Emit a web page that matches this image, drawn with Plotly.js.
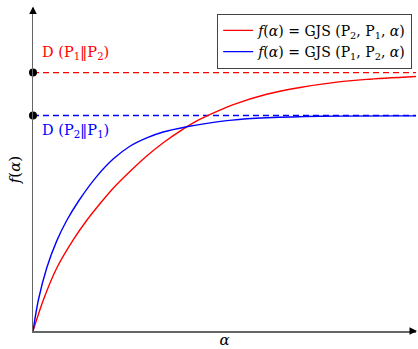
<!DOCTYPE html>
<html><head><meta charset="utf-8">
<script src="https://cdn.plot.ly/plotly-3.0.1.min.js"></script>
<style>html,body{margin:0;padding:0;background:#fff}#chart{width:418px;height:349px}</style>
</head><body><div id="chart"></div>
<script>
// alpha values and curve values
const blueX = [0, 0.014, 0.036, 0.062, 0.088, 0.12, 0.166, 0.21, 0.253, 0.297, 0.34, 0.405, 0.45, 0.52, 0.61, 0.75, 1.0];
const blueY = [0, 0.096, 0.196, 0.279, 0.342, 0.404, 0.478, 0.533, 0.572, 0.598, 0.616, 0.633, 0.642, 0.653, 0.660, 0.665, 0.666];
const redX = [0, 0.027, 0.062, 0.105, 0.14, 0.179, 0.21, 0.253, 0.297, 0.34, 0.384, 0.43, 0.488, 0.523, 0.61, 0.697, 0.784, 0.871, 1.0];
const redY = [0, 0.096, 0.195, 0.282, 0.342, 0.400, 0.443, 0.494, 0.542, 0.583, 0.619, 0.652, 0.684, 0.701, 0.733, 0.754, 0.769, 0.779, 0.788];
const dRed = 0.8;    // D(P1||P2)
const dBlue = 0.667; // D(P2||P1)
const xSpan = [0, 1];
const redName = "<i>f</i>(<i>α</i>) = GJS (P<sub>2</sub>, P<sub>1</sub>, <i>α</i>)";
const blueName = "<i>f</i>(<i>α</i>) = GJS (P<sub>1</sub>, P<sub>2</sub>, <i>α</i>)";
const redLabel = "D (P<sub>1</sub>‖P<sub>2</sub>)";
const blueLabel = "D (P<sub>2</sub>‖P<sub>1</sub>)";

const RED = "#ff0000", BLUE = "#0000ff";
const FONT = "DejaVu Serif, serif";

const traces = [
  {x: xSpan, y: [dRed, dRed], mode: "lines", line: {color: RED, width: 1.3, dash: "6px,4px"}, showlegend: false, hoverinfo: "skip"},
  {x: xSpan, y: [dBlue, dBlue], mode: "lines", line: {color: BLUE, width: 1.4, dash: "6px,4px"}, showlegend: false, hoverinfo: "skip"},
  {x: redX, y: redY, mode: "lines", line: {color: RED, width: 1.4, shape: "spline", smoothing: 0.8}, name: redName},
  {x: blueX, y: blueY, mode: "lines", line: {color: BLUE, width: 1.4, shape: "spline", smoothing: 0.8}, name: blueName},
  {x: [xSpan[0], xSpan[0]], y: [dRed, dBlue], mode: "markers", marker: {color: "#000", size: 8}, cliponaxis: false, showlegend: false, hoverinfo: "skip"}
];

const layout = {
  width: 418, height: 349,
  margin: {l: 33, r: 2, t: 8, b: 18},
  paper_bgcolor: "#fff", plot_bgcolor: "#fff",
  font: {family: FONT, size: 14, color: "#000"},
  xaxis: {range: [0, 1], showgrid: false, zeroline: false, showticklabels: false, ticks: "",
          showline: true, linecolor: "#666", linewidth: 1.5,
          title: {text: "<i>α</i>", standoff: 4, font: {family: FONT, size: 15}}},
  yaxis: {range: [0, 1], showgrid: false, zeroline: false, showticklabels: false, ticks: "",
          showline: true, linecolor: "#666", linewidth: 1.5,
          title: {text: "<i>f</i>(<i>α</i>)", standoff: 7, font: {family: FONT, size: 15}}},
  legend: {x: 0.99, xanchor: "right", y: 0.982, yanchor: "top", bgcolor: "#fff",
           bordercolor: "#444", borderwidth: 1, font: {family: FONT, size: 14},
           tracegroupgap: 0, itemwidth: 30},
  annotations: [
    {xref: "paper", yref: "y", x: 0.018, y: 0.861, text: redLabel, showarrow: false, xanchor: "left", yanchor: "middle", font: {color: RED, size: 14.5, family: FONT}},
    {xref: "paper", yref: "y", x: 0.018, y: 0.619, text: blueLabel, showarrow: false, xanchor: "left", yanchor: "middle", font: {color: BLUE, size: 14.5, family: FONT}},
    {xref: "paper", yref: "paper", x: 1.005, y: 0, ax: -8, ay: 0, text: "", showarrow: true, arrowhead: 2, arrowsize: 1, arrowwidth: 1.5, arrowcolor: "#000"},
    {xref: "paper", yref: "paper", x: 0, y: 1.005, ax: 0, ay: 8, text: "", showarrow: true, arrowhead: 2, arrowsize: 1, arrowwidth: 1.5, arrowcolor: "#000"}
  ]
};
Plotly.newPlot("chart", traces, layout, {displayModeBar: false, staticPlot: true});
</script></body></html>
